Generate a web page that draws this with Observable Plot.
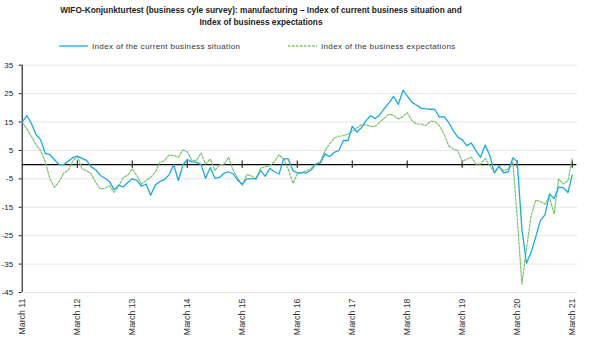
<!DOCTYPE html>
<html>
<head>
<meta charset="utf-8">
<script src="https://cdn.jsdelivr.net/npm/d3@7"></script>
<script src="https://cdn.jsdelivr.net/npm/@observablehq/plot@0.6"></script>
<style>
  body { margin: 0; background: #fff; width: 589px; height: 355px; overflow: hidden; position: relative; font-family: "Liberation Sans", Arial, sans-serif; color: #222; }
  #title { position: absolute; left: 0; top: 4px; width: 522px; text-align: center; font-weight: bold; font-size: 8.3px; line-height: 12px; color: #222; }
  #legend { position: absolute; top: 40px; left: 0; width: 589px; height: 12px; font-size: 8px; letter-spacing: 0.35px; color: #333; }
  .lg { position: absolute; top: 0; display: flex; align-items: center; height: 12px; white-space: nowrap; }
  .lg svg { margin-right: 4px; }
  #chart { position: absolute; left: 0; top: 55px; }
  #chart svg [aria-label^="x-axis"] text { font-size: 8.8px; fill: #333; }
</style>
</head>
<body>
<div id="title">WIFO-Konjunkturtest (business cyle survey): manufacturing – Index of current business situation and<br>Index of business expectations</div>
<div id="legend"></div>
<div id="chart"></div>
<script>
const seriesNames = ["Index of the current business situation", "Index of the business expectations"];
const seriesColors = ["#1aa9e8", "#7cc46a"];

// Monthly values, March 2011 – March 2021
const current = [
  15, 17.3, 14.5, 10.5, 8.8, 4, 3.5, 1.8, 0, 0,
  1.2, 2.5, 3, 2.2, 1.5, -0.8, -1.8, -3.8, -4.8, -6, -8.8, -7.2,
  -7.8, -6.2, -5, -5.5, -7.6, -6.8, -10.8, -7.2, -5.9, -5.3, -3.5, 0,
  -5.6, 0, 1.8, 1, 0.8, 0, -4.8, -1, -4.8, -4.5, -3, -2.5,
  -3.3, -5.6, -6.8, -5, -5, -4.8, -2.1, -4.1, -1.3, -2.5, -3.3, 2,
  2, -2.1, -2.9, -2.9, -2.9, -1.9, 0.2, 0.5, 3.8, 2.8, 4.3, 4.9,
  8.5, 8.5, 13.5, 11.5, 13, 15.5, 17.2, 16.2, 17.6, 19.8, 21.8, 24,
  21.2, 26.2, 24.2, 22, 21, 19.9, 19.6, 19.5, 19.4, 16.7, 16.9, 14.9,
  12, 9.6, 8.8, 6.7, 7.6, 4.9, 2.6, 6.9, 3.2, -2.9, -0.4, -2.9,
  -2.5, 2.4, 1, -22.7, -34.7, -30.9, -25.6, -19.7, -17.7, -10.3, -11.9, -7.8,
  -8.2, -9.8, -3.6
];
const expectations = [
  15, 12.5, 10, 7, 5, 1, -5, -8, -6, -3,
  -2, 1.4, 3, -1.5, -2.1, -3.3, -6.2, -8.6, -8.3, -7.4, -9.8, -7.4,
  -4.5, -3.6, -1.5, -3.9, -6.8, -5.6, -4.5, -2.7, 0.8, 1.4, 3.4, 3.2,
  2.6, 5.2, 4.5, 1.5, 1.5, 4.1, 0.2, 2, -2.1, -0.1, 0.2, 2.6,
  -2.1, -4.8, -7.4, -3.5, -3.9, -5.3, -1.3, -0.7, -0.4, 1, 3.5, 2,
  -1.5, -6.6, -3.3, -2.7, -2.1, -1.3, 0.2, 1, 4.9, 7.3, 9.3, 10,
  10.2, 10.8, 11.8, 13, 14, 14, 13.5, 13.5, 15, 16.4, 17.8, 17.3,
  16.1, 16.9, 18.3, 15.5, 14.3, 14.3, 13.7, 15.2, 15.2, 13.7, 10.8, 6.7,
  5.5, 4.9, 1, 2, 2.6, 0.2, 0.2, 2.2, -0.4, -2.7, -0.9, -2.1,
  -1.5, 1, -19, -42, -29.7, -18, -12.5, -13, -13.9, -11.5, -17.4, -5,
  -6.8, -5.6, 2
];
const xTickLabels = ["March 11","March 12","March 13","March 14","March 15","March 16","March 17","March 18","March 19","March 20","March 21"];
const yTicks = [35, 25, 15, 5, -5, -15, -25, -35, -45];

const dates = current.map((_, i) => new Date(Date.UTC(2011, 2 + i, 1)));
const data = dates.map((d, i) => ({date: d, current: current[i], expectations: expectations[i]}));
const marches = xTickLabels.map((_, i) => new Date(Date.UTC(2011 + i, 2, 1)));
const start = marches[0];
const end = marches[marches.length - 1];
const gridEnd = new Date(Date.UTC(2021, 3, 6));
const zeroEnd = new Date(Date.UTC(2021, 3, 1));

// Legend
const legend = document.getElementById("legend");
const lgPos = [59, 288];
seriesNames.forEach((name, i) => {
  const el = document.createElement("div");
  el.className = "lg";
  el.style.left = lgPos[i] + "px";
  el.innerHTML = `<svg width="29" height="4"><line x1="0" x2="29" y1="2" y2="2" stroke="${seriesColors[i]}" stroke-width="1.3" ${i === 1 ? 'stroke-dasharray="2.5,1.5"' : ''}/></svg><span>${name}</span>`;
  legend.appendChild(el);
});

const chart = Plot.plot({
  width: 589,
  height: 300,
  marginTop: 9.7,
  marginBottom: 63,
  marginLeft: 21.7,
  marginRight: 17.3,
  style: {fontFamily: "'Liberation Sans', Arial, sans-serif", fontSize: "8px", color: "#222", background: "transparent"},
  x: {
    type: "utc",
    domain: [start, end],
    ticks: marches,
    tickFormat: (d) => xTickLabels[d.getUTCFullYear() - 2011],
    tickRotate: -90,
    tickSize: 0,
    tickPadding: 6,
    label: null
  },
  y: {
    domain: [-45, 35],
    ticks: yTicks,
    tickSize: 3,
    tickPadding: 6,
    tickFormat: (d) => String(d),
    label: null
  },
  marks: [
    Plot.ruleY(yTicks, {x1: start, x2: gridEnd, stroke: "#e6e6e6", strokeWidth: 1}),
    Plot.ruleX([start], {y1: -45, y2: 35, stroke: "#000", strokeWidth: 1}),
    Plot.ruleY([0], {x1: start, x2: zeroEnd, stroke: "#000", strokeWidth: 1.1}),
    Plot.ruleX(marches.slice(1), {y1: -1.3, y2: 1.3, stroke: "#000", strokeWidth: 1}),
    Plot.line(data, {x: "date", y: "expectations", stroke: seriesColors[1], strokeWidth: 1.2, strokeDasharray: "2.5,1.5"}),
    Plot.line(data, {x: "date", y: "current", stroke: seriesColors[0], strokeWidth: 1.3})
  ]
});
document.getElementById("chart").appendChild(chart);
</script>
</body>
</html>
